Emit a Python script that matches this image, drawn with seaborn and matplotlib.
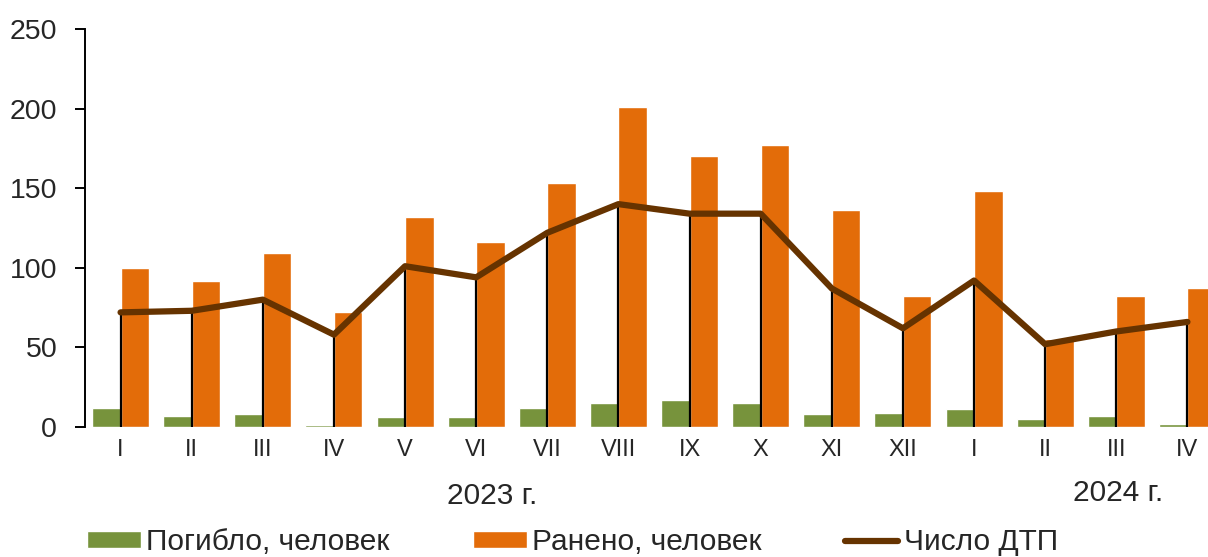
import matplotlib
matplotlib.use("Agg")
import matplotlib.pyplot as plt
import seaborn as sns
import pandas as pd

months = ["I", "II", "III", "IV", "V", "VI", "VII", "VIII", "IX", "X", "XI", "XII",
          "I", "II", "III", "IV"]
killed = [12, 7, 8, 1, 6, 6, 12, 15, 17, 15, 8, 9, 11, 5, 7, 2]
injured = [100, 92, 109, 72, 132, 116, 153, 201, 170, 177, 136, 82, 148, 55, 82, 87]
accidents = [72, 73, 80, 58, 101, 94, 122, 140, 134, 134, 87, 62, 92, 52, 60, 66]

green = "#77933C"
orange = "#E36C09"
brown = "#663300"

sns.set_theme(style="white")
plt.rcParams['font.family'] = ['Liberation Sans', 'DejaVu Sans']

keys = [f"{i}_{m}" for i, m in enumerate(months)]
df = pd.DataFrame({'key': keys, 'Погибло, человек': killed, 'Ранено, человек': injured})
df_melted = pd.melt(df, id_vars=['key'], value_vars=['Погибло, человек', 'Ранено, человек'],
                    var_name='series', value_name='value')

fig = plt.figure(figsize=(12.08, 5.57), dpi=100)
ax = fig.add_axes([85 / 1208, 130 / 557, 1138 / 1208, 398 / 557])

sns.barplot(data=df_melted, x='key', y='value', hue='series', order=keys,
            palette=[green, orange], width=0.8, saturation=1, ax=ax, legend=True)

# drop lines from each accident point down to zero
pos = list(range(len(months)))
ax.vlines(pos, 0, accidents, color='black', lw=1.6, zorder=3)
line_df = pd.DataFrame({'pos': pos, 'n': accidents})
sns.lineplot(data=line_df, x='pos', y='n', color=brown, lw=4.5, ax=ax, zorder=4,
             label='Число ДТП')

ax.set_xlim(-0.5, len(months) - 0.5)
ax.set_ylim(0, 250)
ax.set_yticks(range(0, 251, 50))
ax.set_xticks(pos)
ax.set_xticklabels(months)
ax.set_xlabel('')
ax.set_ylabel('')
for s in ['top', 'right', 'bottom']:
    ax.spines[s].set_visible(False)
ax.spines['left'].set_color('black')
ax.spines['left'].set_linewidth(1.4)
ax.tick_params(axis='y', left=True, length=7, width=1.4, color='black',
               labelsize=20.5, pad=13, direction='out')
ax.tick_params(axis='x', bottom=False, length=0, labelsize=17, pad=9)

fig.text(492 / 1208, 1 - 495.5 / 557, '2023 г.', fontsize=21.5, ha='center', va='center')
fig.text(1118 / 1208, 1 - 493 / 557, '2024 г.', fontsize=21.5, ha='center', va='center')

handles, labels = ax.get_legend_handles_labels()
ax.get_legend().remove()
fig.legend(handles, labels, loc='center left', bbox_to_anchor=(87 / 1208, 1 - 542 / 557),
           ncol=3, frameon=False, fontsize=21.5, handlelength=1.8, handleheight=0.47,
           handletextpad=0.17, columnspacing=2.8, borderaxespad=0, borderpad=0)

fig.savefig('out.png', dpi=100)
